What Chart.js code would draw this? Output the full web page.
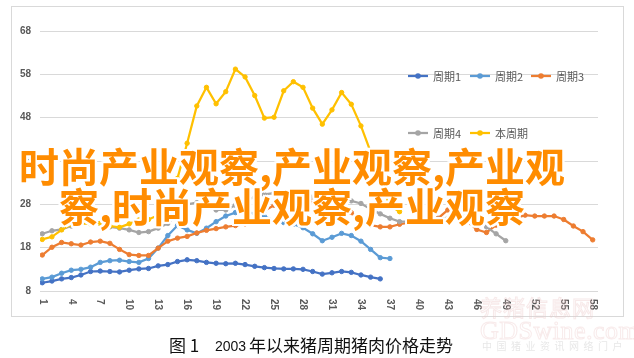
<!DOCTYPE html>
<html><head><meta charset="utf-8">
<script src="https://cdn.jsdelivr.net/npm/chart.js@4.4.1/dist/chart.umd.min.js"></script>
<style>
html,body{margin:0;padding:0;background:#fff;width:634px;height:358px;overflow:hidden}
#wrap{position:relative;width:634px;height:358px}
#c{position:absolute;left:0;top:0}
.overlay{position:absolute;left:0;top:145px;width:584px;text-align:center;font-family:"Noto Sans CJK SC";font-weight:700;font-size:40px;line-height:40px;color:#FF8C00;white-space:nowrap;
text-shadow:0 0 1px #fff,2px 0 0 #fff,-2px 0 0 #fff,0 2px 0 #fff,0 -2px 0 #fff,2px 2px 0 #fff,-2px -2px 0 #fff,2px -2px 0 #fff,-2px 2px 0 #fff}
.cap{position:absolute;top:335px;font-family:"Noto Sans CJK SC";font-size:17px;line-height:20px;color:#111;white-space:pre}
.wm1{position:absolute;left:480px;top:294px;font-family:"Noto Sans CJK SC";font-size:22px;line-height:24px;color:rgba(255,255,255,0);-webkit-text-stroke:1px rgba(235,200,200,0.4);letter-spacing:1px}
.wm2{position:absolute;left:480px;top:317px;font-family:"Liberation Serif";font-size:26px;line-height:28px;color:rgba(255,255,255,0);-webkit-text-stroke:1px rgba(238,205,205,0.4);letter-spacing:0.5px}
.wm3{position:absolute;left:482px;top:340px;font-family:"Noto Sans CJK SC";font-size:10px;line-height:12px;color:rgba(185,185,185,0.35);letter-spacing:4.5px}
</style></head>
<body><div id="wrap">
<canvas id="c" width="634" height="358"></canvas>
<div class="overlay">时尚产业观察,产业观察,产业观<br>察,时尚产业观察,产业观察</div>
<div class="cap" style="left:169px">图 1</div>
<div class="cap" style="left:215px;top:336px;font-family:'Liberation Sans';font-size:14px">2003</div>
<div class="cap" style="left:249px">年以来猪周期猪肉价格走势</div>
<div class="wm1">养猪信息网</div>
<div class="wm2">GDSwine.com</div>
<div class="wm3">中国猪业资讯网络门户</div>
</div>
<script>
const categories = [1,2,3,4,5,6,7,8,9,10,11,12,13,14,15,16,17,18,19,20,21,22,23,24,25,26,27,28,29,30,31,32,33,34,35,36,37,38,39,40,41,42,43,44,45,46,47,48,49,50,51,52,53,54,55,56,57,58];
const xTickLabels = [1,4,7,10,13,16,19,22,25,28,31,34,37,40,43,46,49,52,55,58];
const yTickLabels = [8,18,28,38,48,58,68];
const seriesNames = ['周期1','周期2','周期3','周期4','本周期'];
const seriesColors = ['#4472C4','#5B9BD5','#ED7D31','#A5A5A5','#FFC000'];

const cycle1 = [9.9,10.3,10.8,11.1,11.7,12.5,12.6,12.5,12.4,12.8,13.1,13.2,13.8,14.1,14.8,15.2,15.0,14.6,14.4,14.3,14.4,14.1,13.7,13.4,13.2,13.1,13.1,13.0,12.5,11.9,12.2,12.5,12.3,11.7,11.2,10.8];
const cycle2 = [10.8,11.2,12.1,12.8,13.0,13.5,14.6,15.0,15.1,14.8,14.6,15.5,17.9,20.8,23.1,22.1,21.3,22.5,24.0,25.3,26.1,26.2,25.9,25.2,24.3,23.8,23.4,22.6,21.2,19.6,20.4,21.3,20.8,19.5,17.6,15.7,15.5];
const cycle3 = [16.3,18.1,19.2,18.9,18.6,19.3,19.5,19.0,17.6,16.4,16.2,16.2,17.9,19.5,20.2,20.6,21.4,22.0,22.4,22.8,23.1,23.5,24.1,26.5,27.8,29.0,29.8,29.6,28.8,27.9,27.5,27.0,26.1,24.0,23.2,22.8,22.8,23.4,23.8,23.8,23.8,24.8,26.7,25.3,24.0,22.2,21.5,23.2,23.6,24.8,25.5,25.3,25.3,25.3,24.5,23.0,21.7,19.8];
const cycle4 = [21.2,21.9,22.2,23.0,23.6,23.8,23.6,22.8,22.5,22.1,21.5,21.7,22.5,23.6,25.9,28.0,28.4,27.6,26.7,26.7,27.8,29.0,29.6,30.3,30.6,30.4,30.1,29.9,29.7,29.4,29.1,28.8,28.8,28.2,26.9,25.8,24.8,24.0,24.0,24.2,24.4,24.6,24.8,25.5,25.3,24.4,22.8,21.2,19.6];
const currentCycle = [19.9,20.5,22.1,23.4,23.6,23.5,23.6,23.0,22.7,23.5,24.4,24.5,25.5,29.0,34.0,42.1,50.7,55.0,51.2,54.0,59.2,57.4,53.1,47.9,48.1,54.2,56.3,55.0,50.2,46.5,49.8,53.8,51.1,46.1,40.1,33.0,27.8,26.3];

const allSeries = [cycle1, cycle2, cycle3, cycle4, currentCycle];
const toPoints = arr => arr.map((v, i) => ({x: categories[i], y: v}));

Chart.defaults.font.family = '"Liberation Sans"';

const frameAndLabels = {
  id: 'frameAndLabels',
  beforeDraw(chart) {
    const ctx = chart.ctx;
    ctx.save();
    ctx.strokeStyle = '#D9D9D9';
    ctx.lineWidth = 1;
    ctx.strokeRect(11.5, 6.5, 612, 310);
    ctx.restore();
  },
  afterDraw(chart) {
    const ctx = chart.ctx;
    const xs = chart.scales.x;
    const bottom = chart.chartArea.bottom;
    ctx.save();
    ctx.fillStyle = '#595959';
    ctx.font = 'bold 10px "Liberation Sans"';
    ctx.textAlign = 'left';
    ctx.textBaseline = 'middle';
    xs.ticks.forEach(t => {
      const px = xs.getPixelForValue(t.value);
      ctx.save();
      ctx.translate(px, bottom + 8);
      ctx.rotate(Math.PI / 2);
      ctx.fillText(String(t.value), 0, 0);
      ctx.restore();
    });
    const pos = [[408,76],[470,76],[531,76],[408,133],[470,133]];
    ctx.font = '11px "Noto Sans CJK SC"';
    chart.data.datasets.forEach((ds, i) => {
      const [lx, ly] = pos[i];
      ctx.strokeStyle = ds.borderColor;
      ctx.lineWidth = 2.25;
      ctx.beginPath(); ctx.moveTo(lx, ly); ctx.lineTo(lx + 20, ly); ctx.stroke();
      ctx.fillStyle = ds.borderColor;
      ctx.beginPath(); ctx.arc(lx + 10, ly, 2.8, 0, Math.PI * 2); ctx.fill();
      ctx.fillStyle = '#595959';
      ctx.fillText(ds.label, lx + 25, ly + 0.5);
    });
    ctx.restore();
  }
};

new Chart(document.getElementById('c'), {
  type: 'line',
  data: {
    datasets: allSeries.map((s, i) => ({
      label: seriesNames[i],
      data: toPoints(s),
      borderColor: seriesColors[i],
      backgroundColor: seriesColors[i],
      pointBackgroundColor: seriesColors[i],
      pointBorderColor: seriesColors[i],
      borderWidth: 2.25,
      pointRadius: 2.2,
      pointBorderWidth: 1,
      tension: 0,
      order: 4 - i
    }))
  },
  options: {
    responsive: false,
    animation: false,
    layout: {padding: {left: 20, top: 31, right: 36, bottom: 67}},
    plugins: {legend: {display: false}, tooltip: {enabled: false}},
    scales: {
      x: {
        type: 'linear',
        min: 0.762,
        max: 58.55,
        afterBuildTicks: s => { s.ticks = xTickLabels.map(v => ({value: v})); },
        afterFit: s => { s.height = 0; },
        ticks: {display: false},
        grid: {display: false},
        border: {display: false}
      },
      y: {
        min: 8,
        max: 68,
        afterBuildTicks: s => { s.ticks = yTickLabels.map(v => ({value: v})); },
        afterFit: s => { s.width = 20; },
        ticks: {stepSize: 10, padding: 9, color: '#595959', font: {size: 10, weight: 'bold'}},
        grid: {color: '#D9D9D9', lineWidth: 1, drawTicks: false},
        border: {display: false}
      }
    }
  },
  plugins: [frameAndLabels]
});
</script>
</body></html>
